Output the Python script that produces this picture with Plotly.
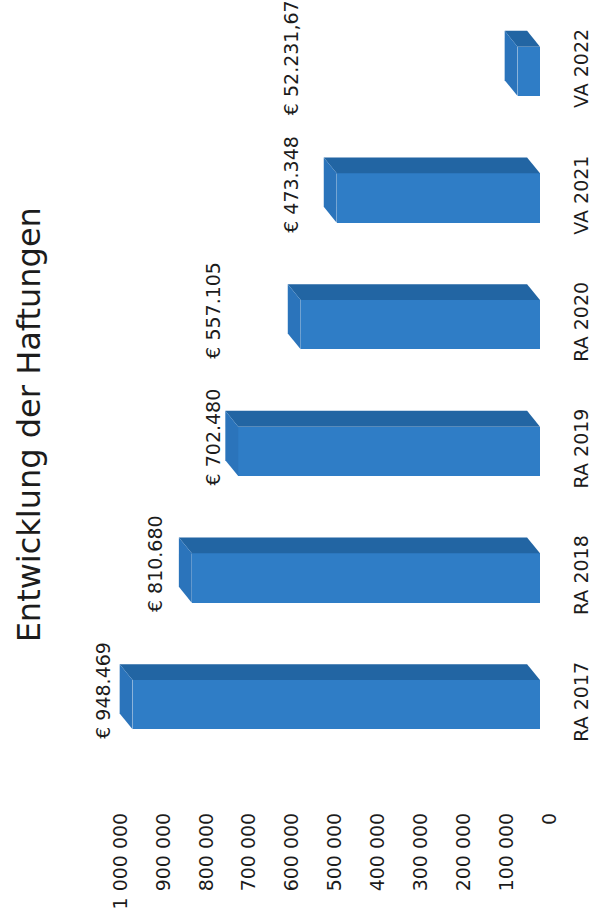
import plotly.graph_objects as go

# Haftungen je Rechnungs-/Voranschlagsjahr
categories = ["RA 2017", "RA 2018", "RA 2019", "RA 2020", "VA 2021", "VA 2022"]
values = [948469, 810680, 702480, 557105, 473348, 52231.67]
tick_values = [0, 100000, 200000, 300000, 400000, 500000,
               600000, 700000, 800000, 900000, 1000000]

# value-axis positions where the data labels sit (hand-placed text boxes)
label_anchor = [1017000, 896000, 761000, 761000, 580000, 580000]

TITLE = "Entwicklung der Haftungen"
FONT = "DejaVu Sans"
FRONT = "#2F7DC6"
TOP = "#2265A3"
SIDE = "#2B74BB"
INK = "#1c1c1c"

BAR_W = 0.39          # bar thickness in category units
DEPTH_V = 30000       # 3D depth expressed along the value axis
DEPTH_C = 0.125       # 3D depth expressed along the category axis


def euro(v):
    if float(v).is_integer():
        s = f"{int(v):,}".replace(",", ".")
    else:
        s = f"{v:,.2f}".replace(",", "#").replace(".", ",").replace("#", ".")
    return "€ " + s


pos = list(range(len(categories)))

fig = go.Figure()

# front faces
fig.add_trace(go.Bar(
    x=values, y=pos, orientation="h", width=BAR_W,
    marker=dict(color=FRONT, line=dict(width=0)),
    hoverinfo="skip", showlegend=False,
))

# top strip and outer end cap give the extruded look
for v, p in zip(values, pos):
    hi = p + BAR_W / 2
    lo = p - BAR_W / 2
    fig.add_trace(go.Scatter(
        x=[v, 0, DEPTH_V, v + DEPTH_V, v],
        y=[hi, hi, hi + DEPTH_C, hi + DEPTH_C, hi],
        mode="lines", fill="toself", fillcolor=TOP,
        line=dict(width=0, color=TOP), hoverinfo="skip", showlegend=False,
    ))
    fig.add_trace(go.Scatter(
        x=[v, v + DEPTH_V, v + DEPTH_V, v, v],
        y=[hi, hi + DEPTH_C, lo + DEPTH_C, lo, hi],
        mode="lines", fill="toself", fillcolor=SIDE,
        line=dict(width=0, color=SIDE), hoverinfo="skip", showlegend=False,
    ))

annotations = []
for v, p, a in zip(values, pos, label_anchor):
    annotations.append(dict(
        x=a, y=p, xref="x", yref="y", text=euro(v), showarrow=False,
        textangle=-90, yshift=14, xanchor="center", yanchor="middle",
        font=dict(family=FONT, size=19, color=INK),
    ))
annotations.append(dict(
    x=-0.106, y=0.451, xref="paper", yref="paper", text=TITLE,
    showarrow=False, textangle=-90, xanchor="center", yanchor="middle",
    font=dict(family=FONT, size=32, color=INK),
))

fig.update_layout(
    width=593, height=912,
    margin=dict(l=80, r=33, t=8, b=144),
    paper_bgcolor="white", plot_bgcolor="white",
    separators=", ",
    bargap=0,
    annotations=annotations,
    xaxis=dict(
        range=[1070800, -46600], automargin=False,
        tickvals=tick_values, tickformat=",d", tickangle=-90,
        showgrid=False, zeroline=False, showline=False, ticks="",
        ticklabelstandoff=40, ticklabelshift=-10,
        tickfont=dict(family=FONT, size=19, color=INK),
    ),
    yaxis=dict(
        range=[-0.5, len(categories) - 0.5], automargin=False,
        tickvals=pos, ticktext=categories, side="right", tickangle=-90,
        showgrid=False, zeroline=False, showline=False, ticks="",
        ticklabelstandoff=8,
        tickfont=dict(family=FONT, size=19, color=INK),
    ),
)

fig.write_html("out.html")
